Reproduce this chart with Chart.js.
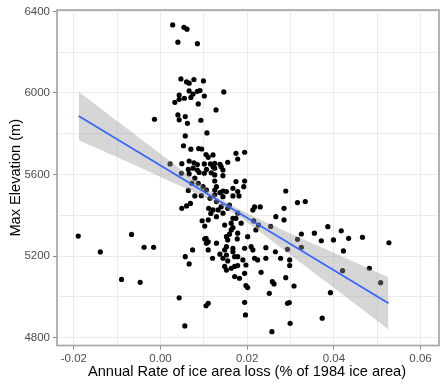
<!DOCTYPE html>
<html>
<head>
<meta charset="utf-8">
<script src="https://cdn.jsdelivr.net/npm/chart.js@4.4.1/dist/chart.umd.min.js"></script>
<style>
  html, body { margin: 0; padding: 0; background: #ffffff; }
  canvas { display: block; }
</style>
</head>
<body>
<canvas id="chart" width="441" height="385"></canvas>
<script>
// Glacier sites: annual rate of ice area loss vs. maximum elevation
const ptX = [
  0.0028, 0.0054, 0.0061, 0.0040, 0.0085, 0.0047, 0.0060, 0.0066, 0.0077, 0.0099,
  0.0043, 0.0066, 0.0075, 0.0085, 0.0091, 0.0101, 0.0055, 0.0043, 0.0146, 0.0033,
  0.0070, 0.0087, 0.0128, -0.0014, 0.0040, 0.0057, 0.0043, 0.0062, 0.0093, 0.0057,
  0.0107, 0.0053, 0.0070, 0.0088, 0.0095, 0.0105, 0.0110, 0.0121, 0.0174, 0.0194,
  0.0178, 0.0155, 0.0125, 0.0137, 0.0140, 0.0022, 0.0049, 0.0066, 0.0077, 0.0085,
  0.0101, 0.0115, 0.0064, 0.0075, 0.0085, 0.0106, 0.0121, 0.0048, 0.0066, 0.0089,
  0.0101, 0.0117, 0.0079, 0.0125, 0.0125, 0.0144, 0.0144, 0.0125, 0.0174, 0.0194,
  0.0192, 0.0167, 0.0072, 0.0087, 0.0098, 0.0106, 0.0064, 0.0079, 0.0094, 0.0114,
  0.0125, 0.0129, 0.0144, 0.0152, 0.0137, 0.0178, 0.0167, 0.0181, 0.0125, 0.0144,
  0.0289, 0.0049, 0.0060, 0.0069, 0.0111, 0.0121, 0.0116, 0.0096, 0.0110, 0.0102,
  0.0129, 0.0140, 0.0159, 0.0133, 0.0144, 0.0155, 0.0167, 0.0178, 0.0213, 0.0217,
  0.0230, 0.0285, 0.0266, 0.0285, 0.0316, 0.0334, 0.0129, 0.0148, 0.0163, 0.0174,
  0.0186, 0.0215, 0.0226, 0.0220, 0.0254, 0.0155, 0.0152, 0.0159, 0.0163, 0.0167,
  0.0178, 0.0177, 0.0201, 0.0129, 0.0102, 0.0106, 0.0105, 0.0110, 0.0152, 0.0148,
  0.0137, 0.0152, 0.0144, 0.0167, 0.0171, 0.0178, 0.0167, 0.0194, 0.0209, 0.0213,
  0.0217, 0.0224, 0.0243, 0.0243, 0.0265, 0.0277, 0.0293, 0.0298, 0.0298, 0.0316,
  0.0325, 0.0325, 0.0355, 0.0371, 0.0386, 0.0399, 0.0417, 0.0434, 0.0422, 0.0466,
  0.0527, 0.0190, 0.0155, 0.0110, 0.0120, 0.0074, 0.0057, 0.0066, -0.0190, -0.0139,
  -0.0067, -0.0038, -0.0016, 0.0148, 0.0152, 0.0163, 0.0171, 0.0178, 0.0197, 0.0171,
  0.0182, 0.0194, 0.0232, 0.0289, 0.0308, 0.0258, 0.0262, 0.0251, 0.0197, 0.0201,
  0.0194, 0.0196, 0.0293, 0.0297, 0.0299, 0.0257, 0.0420, 0.0482, 0.0508, 0.0392,
  0.0373, 0.0105, 0.0110, -0.0090, -0.0047, 0.0043, 0.0056
];
const ptY = [
  6334, 6322, 6313, 6249, 6242, 6069, 6054, 6048, 6066, 6059,
  5990, 6010, 5995, 6008, 6012, 5985, 5974, 5969, 6005, 5954,
  5978, 5946, 5917, 5871, 5892, 5884, 5868, 5851, 5866, 5789,
  5804, 5741, 5724, 5727, 5725, 5698, 5684, 5696, 5704, 5709,
  5676, 5660, 5655, 5650, 5638, 5652, 5653, 5666, 5657, 5649,
  5652, 5652, 5625, 5631, 5622, 5625, 5638, 5606, 5603, 5610,
  5606, 5608, 5582, 5598, 5631, 5622, 5594, 5568, 5565, 5568,
  5540, 5532, 5557, 5557, 5540, 5524, 5522, 5495, 5496, 5483,
  5524, 5540, 5519, 5516, 5511, 5516, 5495, 5495, 5500, 5491,
  5519, 5434, 5446, 5458, 5434, 5426, 5409, 5373, 5377, 5347,
  5467, 5442, 5450, 5426, 5410, 5434, 5385, 5410, 5426, 5441,
  5441, 5434, 5393, 5377, 5462, 5467, 5393, 5352, 5361, 5385,
  5361, 5372, 5352, 5328, 5345, 5279, 5295, 5307, 5328, 5339,
  5312, 5284, 5295, 5263, 5284, 5263, 5287, 5270, 5246, 5230,
  5209, 5205, 5189, 5221, 5197, 5197, 5238, 5238, 5246, 5230,
  5189, 5181, 5241, 5189, 5221, 5189, 5233, 5181, 5153, 5282,
  5308, 5243, 5312, 5275, 5344, 5279, 5324, 5287, 5225, 5292,
  5265, 5181, 5176, 5230, 5189, 5230, 5197, 5161, 5298, 5220,
  5306, 5243, 5243, 5149, 5131, 5140, 5149, 5153, 5156, 5099,
  5091, 5115, 5120, 5094, 5053, 5074, 5063, 5017, 5055, 5045,
  4973, 4911, 4968, 4972, 4870, 4829, 5128, 5140, 5069, 5020,
  4895, 4956, 4968, 5085, 5071, 4995, 4857
];

// Linear fit and its confidence band
const fitX = [-0.0189, 0.0526];
const fitY = [5887, 4968];
const bandX    = [-0.0189, -0.01, 0,    0.005, 0.01, 0.015, 0.02, 0.025, 0.03, 0.04, 0.0526];
const bandHigh = [6006,    5862,  5700, 5620,  5541, 5468,  5410, 5360,  5311, 5216, 5096];
const bandLow  = [5768,    5684,  5588, 5540,  5491, 5434,  5364, 5286,  5205, 5044, 4840];

// Axis ticks
const xMajor = [-0.02, 0, 0.02, 0.04, 0.06];
const xMajorLabels = ['-0.02', '0.00', '0.02', '0.04', '0.06'];
const xMinor = [-0.01, 0.01, 0.03, 0.05];
const yMajor = [4800, 5200, 5600, 6000, 6400];
const yMajorLabels = ['4800', '5200', '5600', '6000', '6400'];
const yMinor = [5000, 5400, 5800, 6200];

const xLabel = 'Annual Rate of ice area loss (% of 1984 ice area)';
const yLabel = 'Max Elevation (m)';

const FONT = "'Liberation Sans', Arial, 'DejaVu Sans', sans-serif";
const GRID = '#ebebeb';
const TICK = '#8a8a8a';

function majorIndex(list, v) {
  return list.findIndex(m => Math.abs(m - v) < 1e-9);
}
function setTicks(major, minor) {
  return scale => {
    scale.ticks = major.concat(minor).sort((a, b) => a - b).map(v => ({ value: v }));
  };
}

const toPoints = (xs, ys) => xs.map((x, i) => ({ x: x, y: ys[i] }));

// Panel border drawn over the plotted content
const panelBorder = {
  id: 'panelBorder',
  afterDatasetsDraw(chart) {
    const a = chart.chartArea;
    const ctx = chart.ctx;
    ctx.save();
    ctx.strokeStyle = '#a6a6a6';
    ctx.lineWidth = 1.7;
    ctx.strokeRect(a.left, a.top, a.right - a.left + 2, a.bottom - a.top);
    ctx.restore();
  }
};

new Chart(document.getElementById('chart'), {
  type: 'line',
  data: {
    datasets: [
      {
        label: 'sites',
        data: toPoints(ptX, ptY),
        showLine: false,
        pointRadius: 2.6,
        pointBackgroundColor: '#000000',
        pointBorderWidth: 0,
        order: 3
      },
      {
        label: 'upper',
        data: toPoints(bandX, bandHigh),
        borderWidth: 0,
        pointRadius: 0,
        cubicInterpolationMode: 'monotone',
        backgroundColor: 'rgba(153,153,153,0.4)',
        fill: '+1',
        order: 2
      },
      {
        label: 'lower',
        data: toPoints(bandX, bandLow),
        borderWidth: 0,
        pointRadius: 0,
        cubicInterpolationMode: 'monotone',
        fill: false,
        order: 2
      },
      {
        label: 'fit',
        data: toPoints(fitX, fitY),
        borderColor: '#3366ff',
        borderWidth: 1.6,
        pointRadius: 0,
        fill: false,
        order: 1
      }
    ]
  },
  options: {
    responsive: false,
    animation: false,
    devicePixelRatio: 1,
    events: [],
    layout: { padding: { top: 10, right: 0, bottom: 0, left: 0 } },
    plugins: {
      legend: { display: false },
      tooltip: { enabled: false }
    },
    scales: {
      x: {
        type: 'linear',
        min: -0.0239,
        max: 0.0638,
        afterBuildTicks: setTicks(xMajor, xMinor),
        afterFit: s => { s.height = 39.5; },
        border: { display: false },
        grid: {
          color: GRID,
          lineWidth: 1,
          tickLength: 4,
          tickColor: c => majorIndex(xMajor, c.tick.value) >= 0 ? TICK : 'rgba(0,0,0,0)'
        },
        ticks: {
          autoSkip: false,
          maxRotation: 0,
          padding: 2,
          color: '#4d4d4d',
          font: { family: FONT, size: 11.5 },
          callback: v => {
            const i = majorIndex(xMajor, v);
            return i >= 0 ? xMajorLabels[i] : '';
          }
        },
        title: {
          display: true,
          text: xLabel,
          color: '#000000',
          font: { family: FONT, size: 14.6 },
          padding: { top: 0, bottom: 4 }
        }
      },
      y: {
        type: 'linear',
        min: 4761,
        max: 6407,
        afterBuildTicks: setTicks(yMajor, yMinor),
        afterFit: s => { s.width = 57; },
        border: { display: false },
        grid: {
          color: GRID,
          lineWidth: 1,
          tickLength: 4,
          tickColor: c => majorIndex(yMajor, c.tick.value) >= 0 ? TICK : 'rgba(0,0,0,0)'
        },
        ticks: {
          autoSkip: false,
          padding: 3,
          color: '#4d4d4d',
          font: { family: FONT, size: 11.5 },
          callback: v => {
            const i = majorIndex(yMajor, v);
            return i >= 0 ? yMajorLabels[i] : '';
          }
        },
        title: {
          display: true,
          text: yLabel,
          color: '#000000',
          font: { family: FONT, size: 14.6 },
          padding: { top: 7, bottom: 0 }
        }
      }
    }
  },
  plugins: [panelBorder]
});
</script>
</body>
</html>
